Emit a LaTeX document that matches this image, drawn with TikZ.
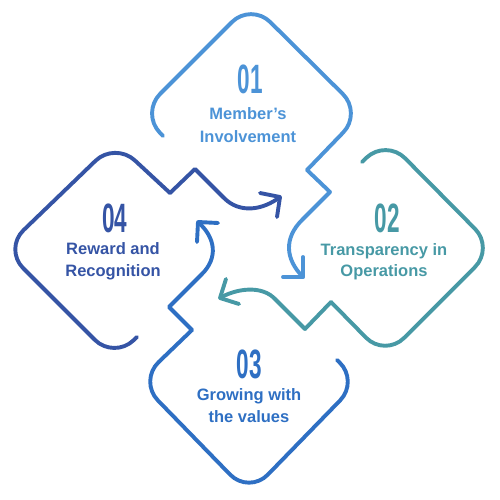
\documentclass[tikz,border=0pt]{standalone}
\usepackage{fontspec}
\setmainfont{Liberation Sans}
\definecolor{cA}{HTML}{4C93D7}
\definecolor{cB}{HTML}{4799A5}
\definecolor{cC}{HTML}{2E6FC3}
\definecolor{cD}{HTML}{3554A5}
\begin{document}
\begin{tikzpicture}[x=1pt,y=-1pt,
  shapeline/.style={line width=3.9pt, line cap=round, line join=round},
  lbl/.style={anchor=base, inner sep=0pt, font=\fontsize{16.5}{20}\selectfont\bfseries},
  num/.style={anchor=base, inner sep=0pt, font=\fontsize{41}{41}\selectfont\bfseries}]
\useasboundingbox (0,0) rectangle (500,500);

% Shape 1
\draw[shapeline, cA, rounded corners=27pt] (163,136) -- (141,113) -- (251,3) -- (362,113) -- (307,170);
\draw[shapeline, cA] (307,170) -- (330,192) -- (302,220) .. controls (284,238) and (285,259) .. (303,277);
\draw[shapeline, cA] (303,257) -- (303,277) -- (283,277);

% Shape 2
\draw[shapeline, cB, rounded corners=27pt] (362,162) -- (386,139) -- (494,248) -- (385,357) -- (331,302);
\draw[shapeline, cB] (331,302) -- (305,329) -- (276,300) .. controls (262,284) and (235,289) .. (220,298);
\draw[shapeline, cB] (226,279) -- (220,298) -- (239,304);

% Shape 3
\draw[shapeline, cC, rounded corners=27pt] (337,360) -- (359,381) -- (249,494) -- (139,381) -- (192,330);
\draw[shapeline, cC] (192,330) -- (169,307) -- (202,274) .. controls (218,258) and (216,238) .. (198,222);
\draw[shapeline, cC] (218,223) -- (198,222) -- (197,242);

% Shape 4
\draw[shapeline, cD, rounded corners=27pt] (137,337) -- (114,359) -- (4,249) -- (115,142) -- (170,193);
\draw[shapeline, cD] (170,193) -- (195,169) -- (224,198) .. controls (240,214) and (263,210) .. (280,197);
\draw[shapeline, cD] (260,193) -- (280,197) -- (277,217);

% Texts
\node[num, cA] (n1) at (250,94) {\scalebox{0.55}[1]{01}};
\node[lbl, cA] (t1a) at (248,119) {Member’s};
\node[lbl, cA] (t1b) at (248,142) {Involvement};

\node[num, cB] (n2) at (387,232) {\scalebox{0.55}[1]{02}};
\node[lbl, cB] (t2a) at (384,255) {Transparency in};
\node[lbl, cB] (t2b) at (384,276) {Operations};

\node[num, cC] (n3) at (249,378) {\scalebox{0.55}[1]{03}};
\node[lbl, cC] (t3a) at (249,400) {Growing with};
\node[lbl, cC] (t3b) at (249,422) {the values};

\node[num, cD] (n4) at (115,232) {\scalebox{0.55}[1]{04}};
\node[lbl, cD] (t4a) at (113,254) {Reward and};
\node[lbl, cD] (t4b) at (113,276) {Recognition};
\end{tikzpicture}
\end{document}
